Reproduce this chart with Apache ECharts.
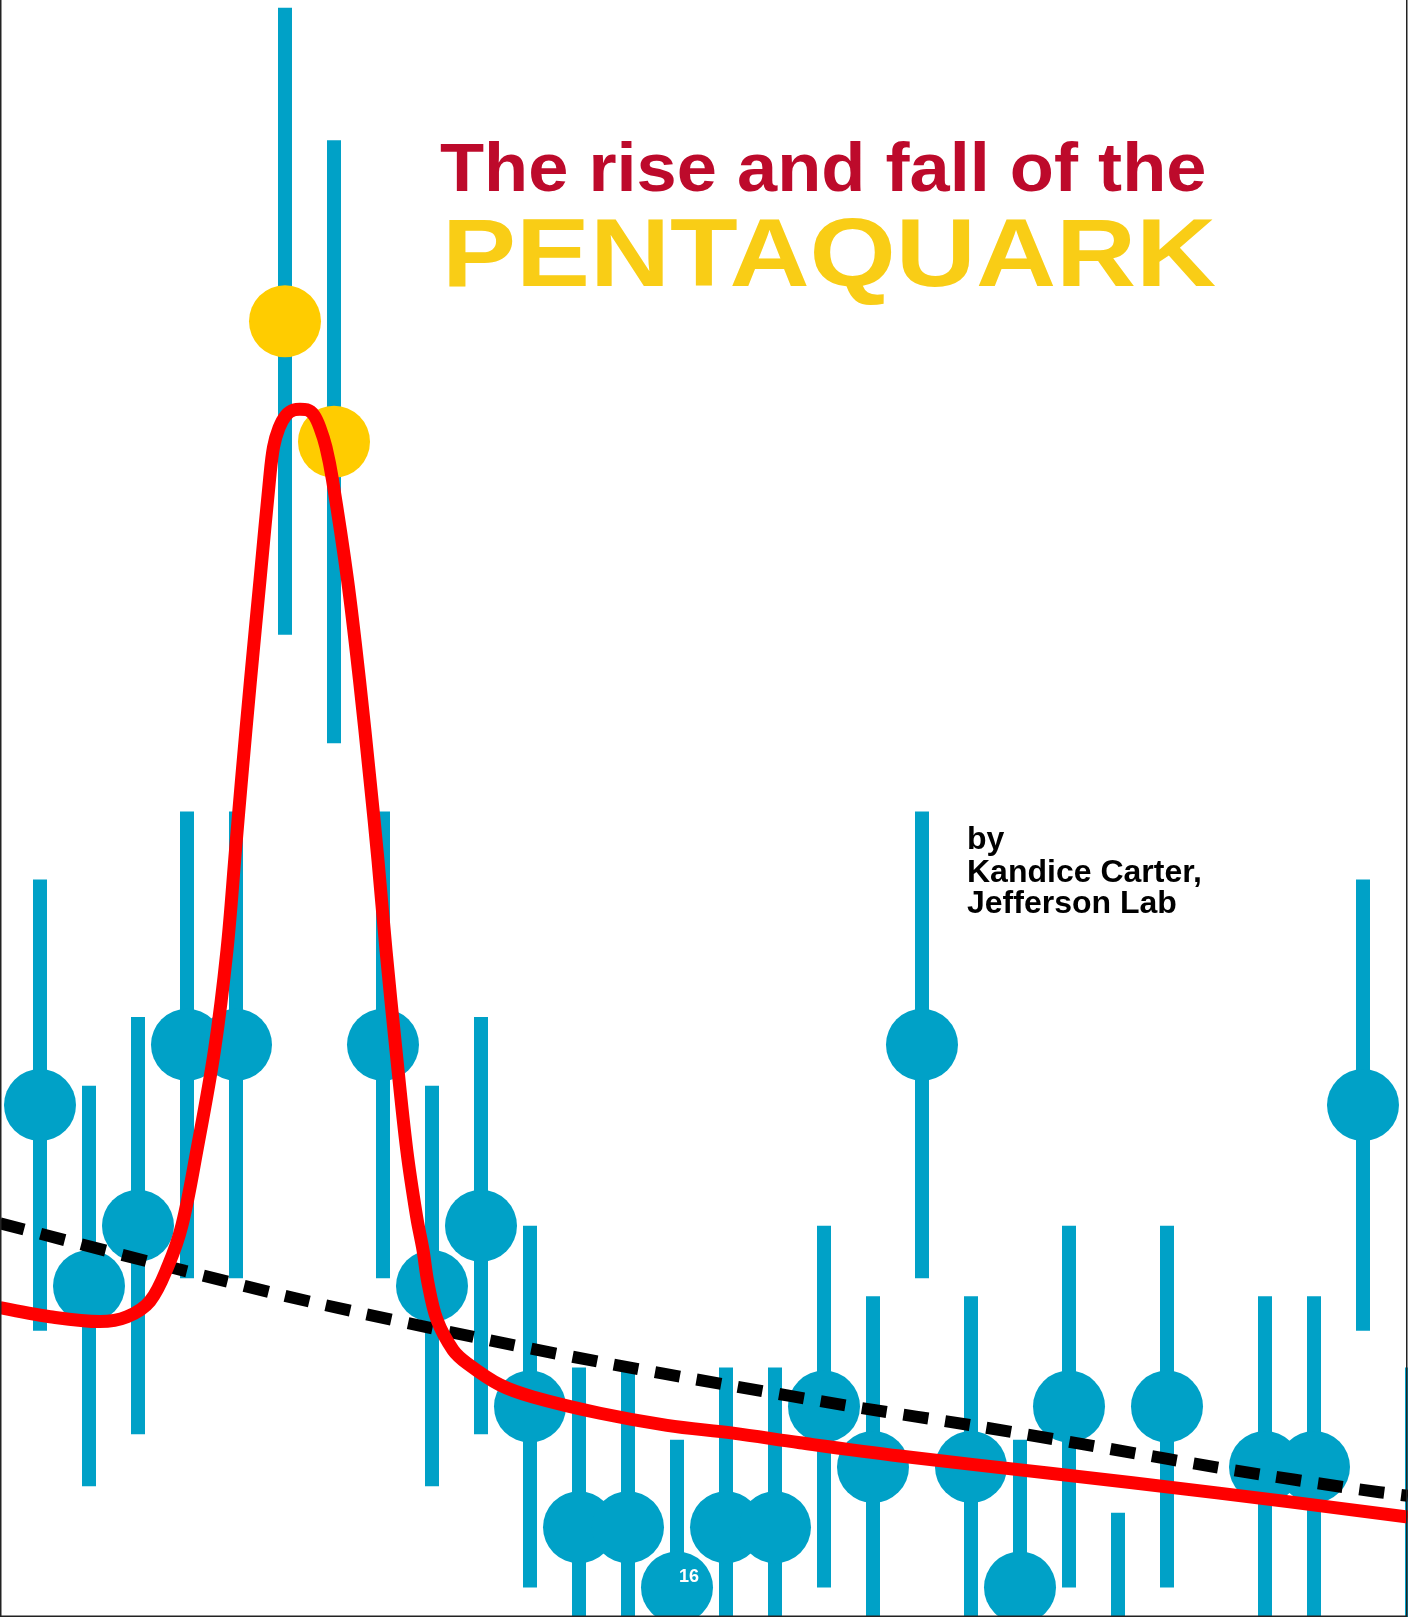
<!DOCTYPE html>
<html>
<head>
<meta charset="utf-8">
<title>The rise and fall of the Pentaquark</title>
<script src="https://cdn.jsdelivr.net/npm/echarts@6/dist/echarts.min.js"></script>
<style>
  html, body { margin: 0; padding: 0; background: #ffffff; }
  #chart { width: 1408px; height: 1617px; }
</style>
</head>
<body>
<div id="chart"></div>
<script>
// Histogram bins (bin -1 and bin 28 sit half off the page edges)
const bins = [-1, 0, 1, 2, 3, 4, 5, 6, 7, 8, 9, 10, 11, 12, 13, 14, 15, 16, 17, 18, 19, 20, 21, 22, 23, 24, 25, 26, 27, 28];
// Events per bin
const counts = [9, 14, 11, 12, 15, 15, 27, 25, 15, 11, 12, 9, 7, 7, 6, 7, 7, 9, 8, 15, 8, 6, 9, 5, 9, 3, 8, 8, 14, 7];
// Half-length of each error bar
const errors = [3.0, 3.74, 3.32, 3.46, 3.87, 3.87, 5.2, 5.0, 3.87, 3.32, 3.46, 3.0, 2.65, 2.65, 2.45, 2.65, 2.65, 3.0, 2.83, 3.87, 2.83, 2.45, 3.0, 2.24, 3.0, 1.73, 2.83, 2.83, 3.74, 2.65];
// Bins of the claimed signal
const peakBins = [5, 6];

// Fit: narrow peak on top of the background
const fitX = [-0.816, 0.204, 1.224, 1.776, 2.245, 2.612, 2.898, 3.204, 3.561, 3.816, 3.99, 4.112, 4.296, 4.49, 4.684, 4.765, 4.878, 5.02, 5.184, 5.306, 5.449, 5.592, 5.714, 5.837, 5.969, 6.276, 6.52, 6.735, 6.898, 7.061, 7.265, 7.484, 7.688, 7.816, 7.918, 8.102, 8.429, 8.714, 9.388, 10.061, 11.429, 12.796, 14.143, 15.51, 17.551, 20.571, 24.02, 27.918];
const fitY = [10.64, 10.49, 10.41, 10.49, 10.75, 11.33, 12.01, 13.26, 14.91, 16.57, 18.23, 19.39, 21.05, 22.71, 24.37, 24.91, 25.23, 25.44, 25.53, 25.54, 25.53, 25.44, 25.23, 24.91, 24.37, 22.71, 21.05, 19.39, 18.06, 16.57, 14.91, 13.26, 12.14, 11.6, 11.05, 10.44, 9.94, 9.72, 9.36, 9.16, 8.89, 8.69, 8.56, 8.4, 8.18, 7.9, 7.57, 7.17];

// Background-only curve
const bgX = [-0.816, 2.959, 5.51, 8.878, 11.429, 14.02, 16.592, 19.163, 21.755, 24.327, 26.898, 27.918];
const bgY = [12.04, 11.25, 10.74, 10.15, 9.74, 9.36, 9.0, 8.67, 8.31, 7.95, 7.63, 7.52];

const BLUE = '#00A1C7';
const YELLOW = '#FFCC00';
const RED = '#FF0000';

const pointData = bins.map((b, k) => ({
  value: [b, counts[k]],
  itemStyle: { color: peakBins.includes(b) ? YELLOW : BLUE, opacity: 1 }
}));
const barData = bins.map((b, k) => [b, counts[k], errors[k]]);
const fitData = fitX.map((x, k) => [x, fitY[k]]);
const bgData = bgX.map((x, k) => [x, bgY[k]]);

const chart = echarts.init(document.getElementById('chart'), null, { renderer: 'canvas' });

const FONT = '"Liberation Sans", Arial, sans-serif';

chart.setOption({
  animation: false,
  backgroundColor: '#ffffff',
  grid: { left: 0, right: 0, top: 0, bottom: 0 },
  xAxis: { type: 'value', min: -0.8163, max: 27.9184, show: false },
  yAxis: { type: 'value', min: 5.511, max: 32.327, show: false },
  series: [
    {
      name: 'errors',
      type: 'custom',
      z: 1,
      silent: true,
      data: barData,
      renderItem: function (params, api) {
        const x = api.value(0);
        const n = api.value(1);
        const e = api.value(2);
        const hi = api.coord([x, n + e]);
        const lo = api.coord([x, n - e]);
        return {
          type: 'rect',
          shape: { x: hi[0] - 7, y: hi[1], width: 14, height: lo[1] - hi[1] },
          style: { fill: BLUE }
        };
      }
    },
    {
      name: 'counts',
      type: 'scatter',
      z: 2,
      silent: true,
      symbol: 'circle',
      symbolSize: 72,
      itemStyle: { opacity: 1 },
      data: pointData
    },
    {
      name: 'background',
      type: 'line',
      z: 3,
      silent: true,
      smooth: 0.3,
      showSymbol: false,
      data: bgData,
      lineStyle: { color: '#000000', width: 12, type: [25, 17], cap: 'butt', opacity: 1 }
    },
    {
      name: 'fit',
      type: 'line',
      z: 4,
      silent: true,
      smooth: 0.35,
      showSymbol: false,
      data: fitData,
      lineStyle: { color: RED, width: 13, opacity: 1, join: 'round' }
    }
  ],
  graphic: [
    {
      type: 'text', x: 440, y: 172, scaleX: 1.062, z: 10,
      style: {
        text: 'The rise and fall of the',
        font: 'bold 68px ' + FONT,
        fill: '#BD0A2B', textVerticalAlign: 'middle', verticalAlign: 'middle'
      }
    },
    {
      type: 'text', x: 442, y: 260, scaleX: 1.155, z: 10,
      style: {
        text: 'PENTAQUARK',
        font: 'bold 96px ' + FONT,
        fill: '#F9CD16', textVerticalAlign: 'middle', verticalAlign: 'middle'
      }
    },
    {
      type: 'text', x: 967, y: 840, z: 10,
      style: {
        text: 'by', font: 'bold 32px ' + FONT,
        fill: '#000000', textVerticalAlign: 'middle', verticalAlign: 'middle'
      }
    },
    {
      type: 'text', x: 967, y: 873, z: 10,
      style: {
        text: 'Kandice Carter,', font: 'bold 32px ' + FONT,
        fill: '#000000', textVerticalAlign: 'middle', verticalAlign: 'middle'
      }
    },
    {
      type: 'text', x: 967, y: 904, z: 10,
      style: {
        text: 'Jefferson Lab', font: 'bold 32px ' + FONT,
        fill: '#000000', textVerticalAlign: 'middle', verticalAlign: 'middle'
      }
    },
    {
      type: 'text', x: 689, y: 1577, z: 10,
      style: {
        text: '16', font: 'bold 18px ' + FONT,
        fill: '#ffffff', textAlign: 'center', align: 'center',
        textVerticalAlign: 'middle', verticalAlign: 'middle'
      }
    },
    {
      type: 'polyline', z: 11, silent: true,
      shape: { points: [[0.75, 0], [0.75, 1616.25], [1406.75, 1616.25], [1406.75, 0]] },
      style: { stroke: '#222222', lineWidth: 1.5, fill: null }
    }
  ]
});
</script>
</body>
</html>
